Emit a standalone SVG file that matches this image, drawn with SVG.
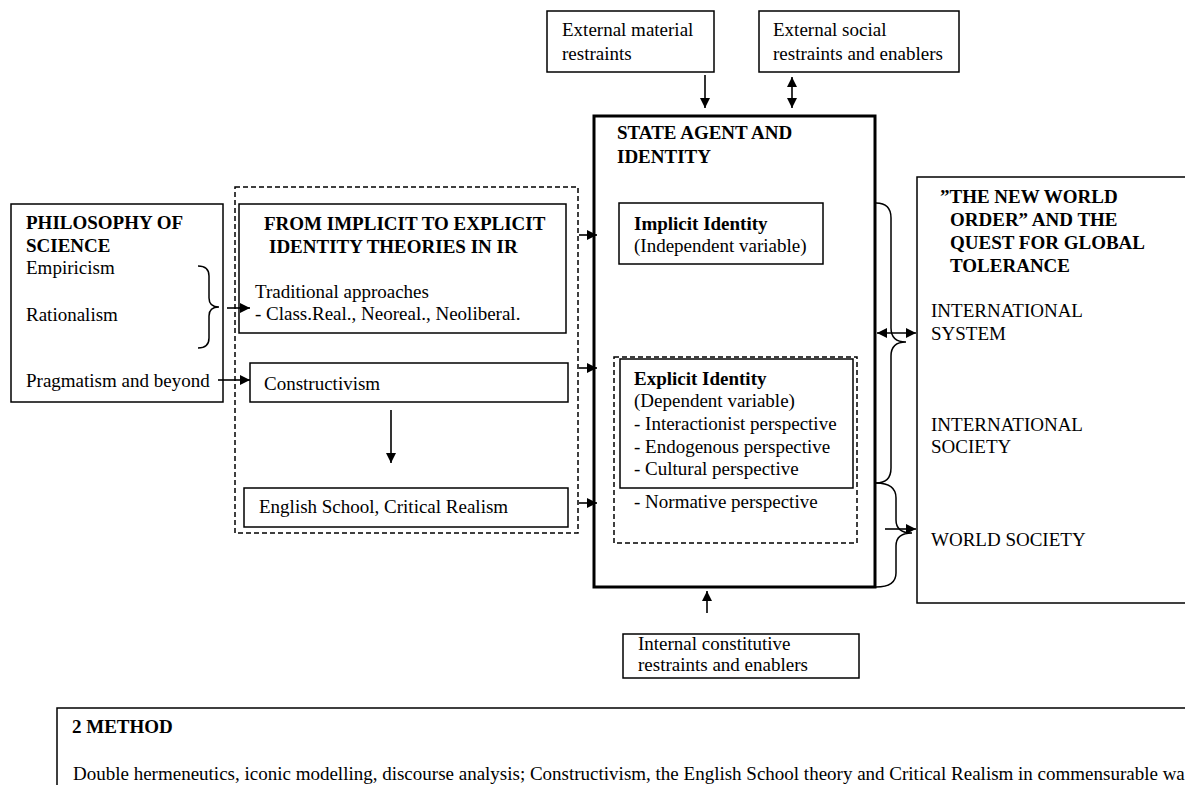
<svg xmlns="http://www.w3.org/2000/svg" width="1185" height="785" viewBox="0 0 1185 785">
<style>
text{font-family:"Liberation Serif","Times New Roman",serif;font-size:19px;fill:#000}
.b{font-weight:bold}
.box{fill:#fff;stroke:#000;stroke-width:1.5}
.thick{fill:#fff;stroke:#000;stroke-width:3}
.dash{fill:none;stroke:#000;stroke-width:1.5;stroke-dasharray:5 3}
.ln{fill:none;stroke:#000;stroke-width:1.6}
.br{fill:none;stroke:#000;stroke-width:1.5}
</style>
<defs>
<marker id="ah" viewBox="0 0 10 10" refX="10" refY="5" markerWidth="10" markerHeight="10" markerUnits="userSpaceOnUse" orient="auto-start-reverse">
<path d="M0,0 L10,5 L0,10 z" fill="#000"/>
</marker>
</defs>
<rect width="1185" height="785" fill="#fff"/>

<g id="philosophy">
<rect class="box" x="11" y="204" width="212" height="198"/>
<text class="b" x="26" y="229">PHILOSOPHY OF</text>
<text class="b" x="26" y="252">SCIENCE</text>
<text x="26" y="274">Empiricism</text>
<text x="26" y="321">Rationalism</text>
<text x="26" y="387">Pragmatism and beyond</text>
</g>

<g id="theories-group">
<rect class="dash" x="235" y="187" width="343" height="346"/>
</g>

<g id="from-implicit">
<rect class="box" x="239" y="204" width="327" height="129"/>
<text class="b" x="264" y="230">FROM IMPLICIT TO EXPLICIT</text>
<text class="b" x="269" y="253">IDENTITY THEORIES IN IR</text>
<text x="255" y="298">Traditional approaches</text>
<text x="255" y="320">- Class.Real., Neoreal., Neoliberal.</text>
</g>

<g id="constructivism">
<rect class="box" x="250" y="363" width="318" height="39"/>
<text x="264" y="390">Constructivism</text>
</g>

<g id="english-school">
<rect class="box" x="244" y="488" width="324" height="39"/>
<text x="259" y="513">English School, Critical Realism</text>
</g>

<g id="ext-material">
<rect class="box" x="547" y="11" width="167" height="61"/>
<text x="562" y="36">External material</text>
<text x="562" y="60">restraints</text>
</g>

<g id="ext-social">
<rect class="box" x="759" y="11" width="200" height="61"/>
<text x="773" y="36">External social</text>
<text x="773" y="60">restraints and enablers</text>
</g>

<g id="state-agent">
<rect class="thick" x="594" y="116" width="281" height="471"/>
<text class="b" x="617" y="139">STATE AGENT AND</text>
<text class="b" x="617" y="163">IDENTITY</text>
</g>

<g id="implicit-identity">
<rect class="box" x="619" y="203" width="204" height="61"/>
<text class="b" x="634" y="230">Implicit Identity</text>
<text x="634" y="252">(Independent variable)</text>
</g>

<g id="explicit-identity">
<rect class="dash" x="614" y="357" width="243" height="186"/>
<rect class="box" x="620" y="359" width="233" height="129"/>
<text class="b" x="634" y="385">Explicit Identity</text>
<text x="634" y="407">(Dependent variable)</text>
<text x="634" y="430">- Interactionist perspective</text>
<text x="634" y="453">- Endogenous perspective</text>
<text x="634" y="475">- Cultural perspective</text>
<text x="634" y="508">- Normative perspective</text>
</g>

<g id="new-world-order">
<rect class="box" x="917" y="177" width="280" height="426"/>
<text class="b" x="940" y="203">”THE NEW WORLD</text>
<text class="b" x="950" y="226">ORDER” AND THE</text>
<text class="b" x="950" y="249">QUEST FOR GLOBAL</text>
<text class="b" x="950" y="272">TOLERANCE</text>
<text x="931" y="317">INTERNATIONAL</text>
<text x="931" y="340">SYSTEM</text>
<text x="931" y="431">INTERNATIONAL</text>
<text x="931" y="453">SOCIETY</text>
<text x="931" y="546">WORLD SOCIETY</text>
</g>

<g id="internal">
<rect class="box" x="623" y="634" width="236" height="44"/>
<text x="638" y="650">Internal constitutive</text>
<text x="638" y="671">restraints and enablers</text>
</g>

<g id="method">
<rect class="box" x="57" y="708" width="1140" height="90"/>
<text class="b" x="72" y="733">2 METHOD</text>
<text x="73" y="780">Double hermeneutics, iconic modelling, discourse analysis; Constructivism, the English School theory and Critical Realism in commensurable wa</text>
</g>

<g id="connectors">
<path class="br" d="M198,266 Q209,266 209,276 L209,298 Q209,307 219,307 Q209,307 209,316 L209,338 Q209,348 198,348"/>
<line class="ln" x1="227" y1="308" x2="250" y2="308" marker-end="url(#ah)"/>
<line class="ln" x1="218" y1="380" x2="250" y2="380" marker-end="url(#ah)"/>
<line class="ln" x1="391" y1="410" x2="391" y2="463" marker-end="url(#ah)"/>
<line class="ln" x1="579" y1="235" x2="597" y2="235" marker-end="url(#ah)"/>
<line class="ln" x1="579" y1="368" x2="597" y2="368" marker-end="url(#ah)"/>
<line class="ln" x1="579" y1="503" x2="597" y2="503" marker-end="url(#ah)"/>
<line class="ln" x1="705" y1="75" x2="705" y2="108" marker-end="url(#ah)"/>
<line class="ln" x1="792" y1="77" x2="792" y2="108" marker-start="url(#ah)" marker-end="url(#ah)"/>
<line class="ln" x1="707" y1="613" x2="707" y2="591" marker-end="url(#ah)"/>
<path class="br" d="M876,203 Q891,203 891,218 L891,328 Q891,342 906,342 Q891,342 891,356 L891,468 Q891,483 876,483"/>
<path class="br" d="M876,483 Q896,483 896,498 L896,520 Q896,533 912,533 Q896,533 896,546 L896,573 Q896,587 876,587"/>
<line class="ln" x1="877" y1="333" x2="916" y2="333" marker-start="url(#ah)" marker-end="url(#ah)"/>
<line class="ln" x1="885" y1="529" x2="916" y2="529" marker-end="url(#ah)"/>
</g>
</svg>
